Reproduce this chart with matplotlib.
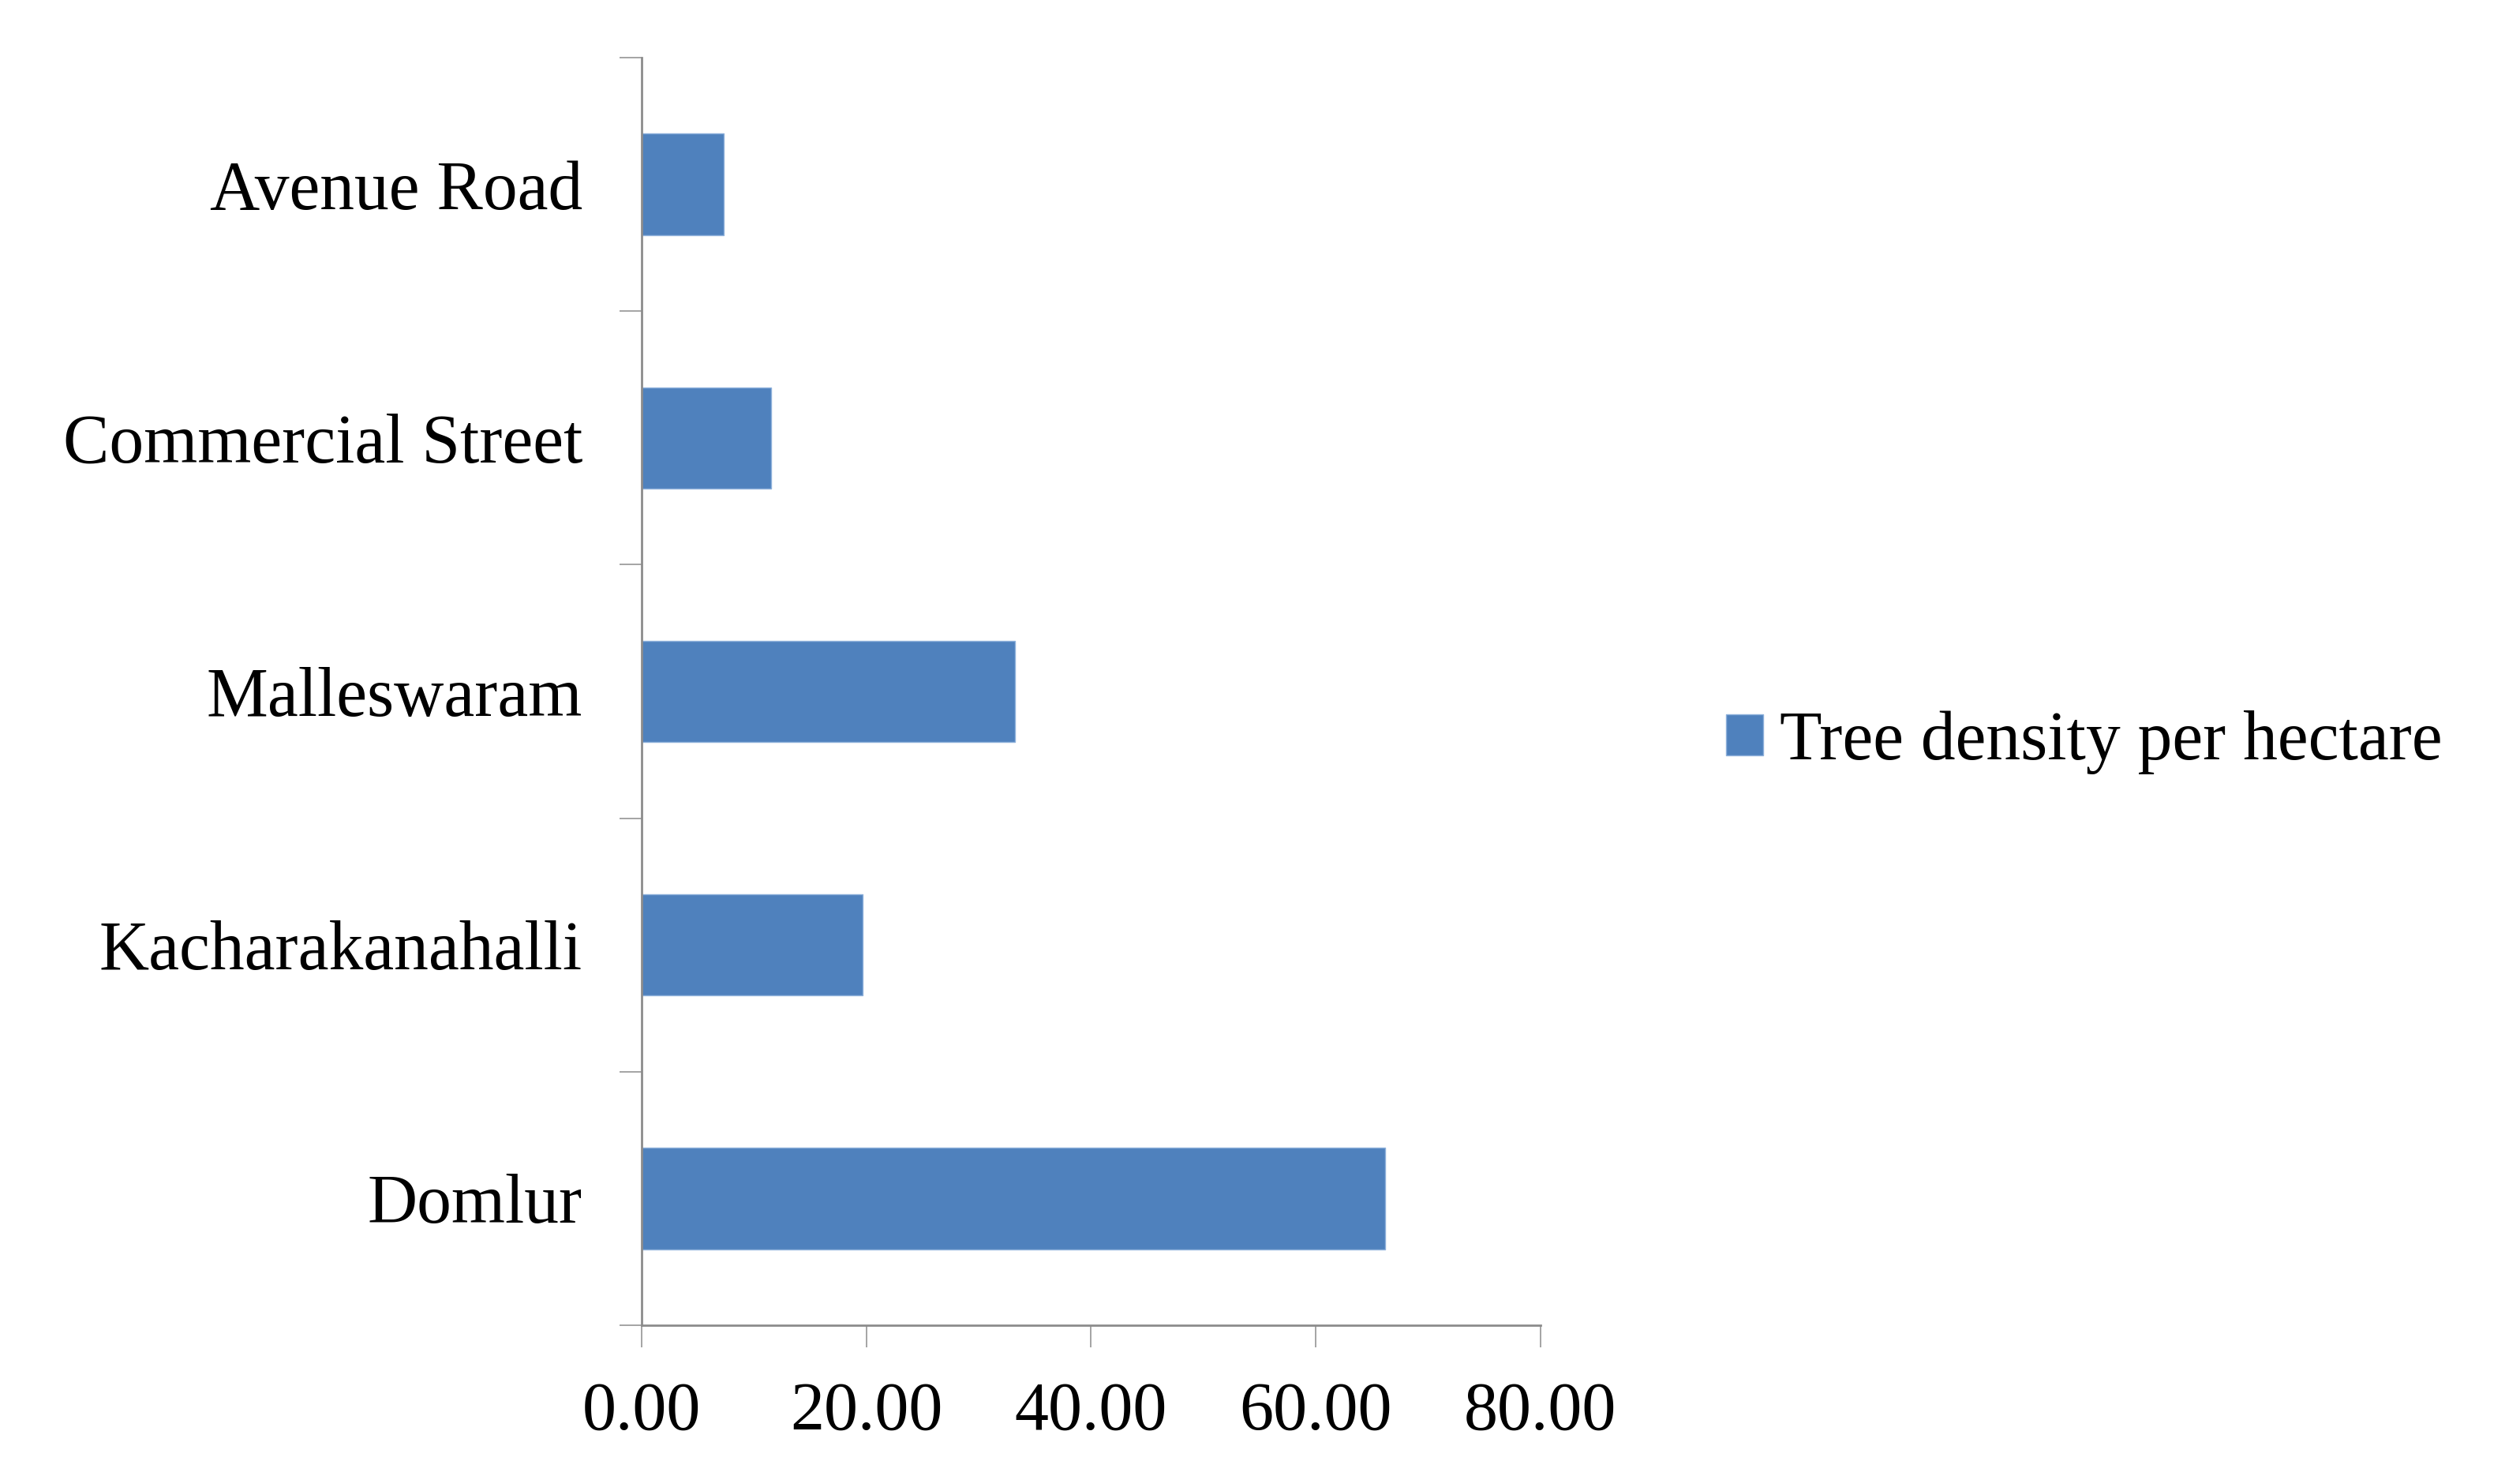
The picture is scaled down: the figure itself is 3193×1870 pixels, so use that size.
import numpy as np
import matplotlib
matplotlib.use('Agg')
import matplotlib.pyplot as plt

# data
sites = ['Domlur', 'Kacharakanahalli', 'Malleswaram', 'Commercial Street', 'Avenue Road']
density = [66.2, 19.7, 33.2, 11.5, 7.3]
xticks = [0, 20, 40, 60, 80]
series_name = 'Tree density per hectare'

plt.rcParams['font.family'] = ['Liberation Serif', 'DejaVu Serif']

fig = plt.figure(figsize=(31.93, 18.70), dpi=100)
ax = fig.add_axes([0.2546, 0.1021, 0.6113 - 0.2546, 0.961 - 0.1021])

ypos = np.arange(len(sites))
ax.barh(ypos, density, height=0.4, color='#4F81BD', edgecolor='#8DB0DB',
        linewidth=1.0, label=series_name, zorder=2)

ax.set_xlim(0, 80)
ax.set_ylim(-0.5, len(sites) - 0.5)
ax.set_xticks(xticks)
ax.set_xticklabels(['%.2f' % v for v in xticks], fontsize=62)
ax.set_yticks(ypos)
ax.set_yticklabels(sites, fontsize=63)
ax.set_yticks(np.arange(-0.5, len(sites)), minor=True)

for s in ['top', 'right']:
    ax.spines[s].set_visible(False)
for s in ['left', 'bottom']:
    ax.spines[s].set_color('#8C8C8C')
    ax.spines[s].set_linewidth(2.0)

ax.tick_params(axis='y', which='major', length=0, pad=54)
ax.tick_params(axis='y', which='minor', length=20, width=1.1, color='#8C8C8C')
ax.tick_params(axis='x', which='major', length=20, width=1.1, color='#8C8C8C', pad=31)

leg = ax.legend(loc='center left', bbox_to_anchor=(0.685, 0.497),
                bbox_transform=fig.transFigure, frameon=False, fontsize=63,
                handlelength=0.53, handleheight=0.53, handletextpad=0.25,
                borderpad=0, borderaxespad=0)

fig.savefig('out.png', dpi=100, facecolor='white')
